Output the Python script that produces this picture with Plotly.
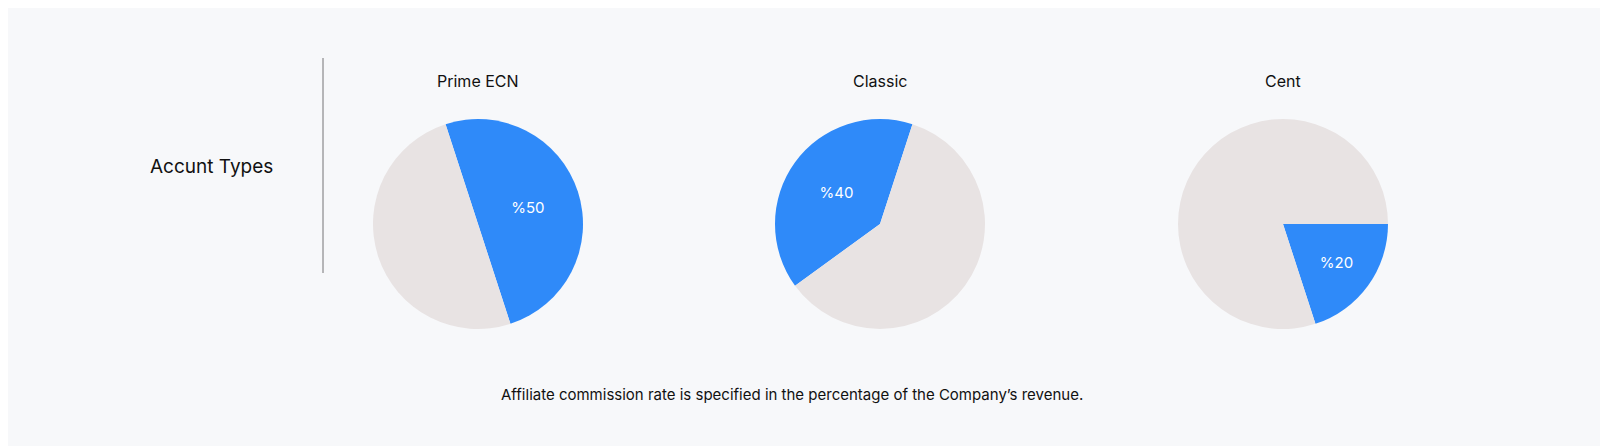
import plotly.graph_objects as go

titles = ["Prime ECN", "Classic", "Cent"]
rates = [50, 40, 20]
rotations = [342, 234, 90]
xdomains = [[365/1608, 575/1608], [767/1608, 977/1608], [1170/1608, 1380/1608]]
ydom = [125/446, 335/446]

fig = go.Figure()
for t, r, rot, xd in zip(titles, rates, rotations, xdomains):
    fig.add_trace(go.Pie(
        values=[r, 100 - r], labels=["Commission", "Rest"], text=[f"%{r}", ""],
        textinfo="text", textposition="inside", insidetextorientation="horizontal",
        textfont=dict(color="white", size=15, family="Inter"),
        marker=dict(colors=["#2F8AF9", "#E8E3E3"], line=dict(width=0)),
        sort=False, direction="clockwise", rotation=rot, hole=0,
        domain=dict(x=xd, y=ydom), showlegend=False, hoverinfo="skip"))
    fig.add_annotation(x=(xd[0]+xd[1])/2, y=1-73/446, xref="paper", yref="paper",
                       xanchor="center", yanchor="middle",
                       text=t, showarrow=False, font=dict(size=16, color="#111", family="Inter"))

fig.add_annotation(x=203/1608, y=1-158/446, xref="paper", yref="paper", text="Accunt Types",
                   xanchor="center", yanchor="middle",
                   showarrow=False, font=dict(size=19, color="#111", family="Inter"))
fig.add_annotation(x=784/1608, y=1-386/446, xref="paper", yref="paper",
                   xanchor="center", yanchor="middle",
                   text="Affiliate commission rate is specified in the percentage of the Company’s revenue.",
                   showarrow=False, font=dict(size=15, color="#111", family="Inter"))
fig.add_shape(type="line", x0=315/1608, x1=315/1608, y0=1-50/446, y1=1-265/446,
              xref="paper", yref="paper", line=dict(color="rgba(60,60,60,0.7)", width=1))

fig.update_layout(width=1608, height=446, margin=dict(l=0, r=0, t=0, b=0),
                  paper_bgcolor="#F7F8FA", plot_bgcolor="#F7F8FA")
fig.write_html("out.html")
